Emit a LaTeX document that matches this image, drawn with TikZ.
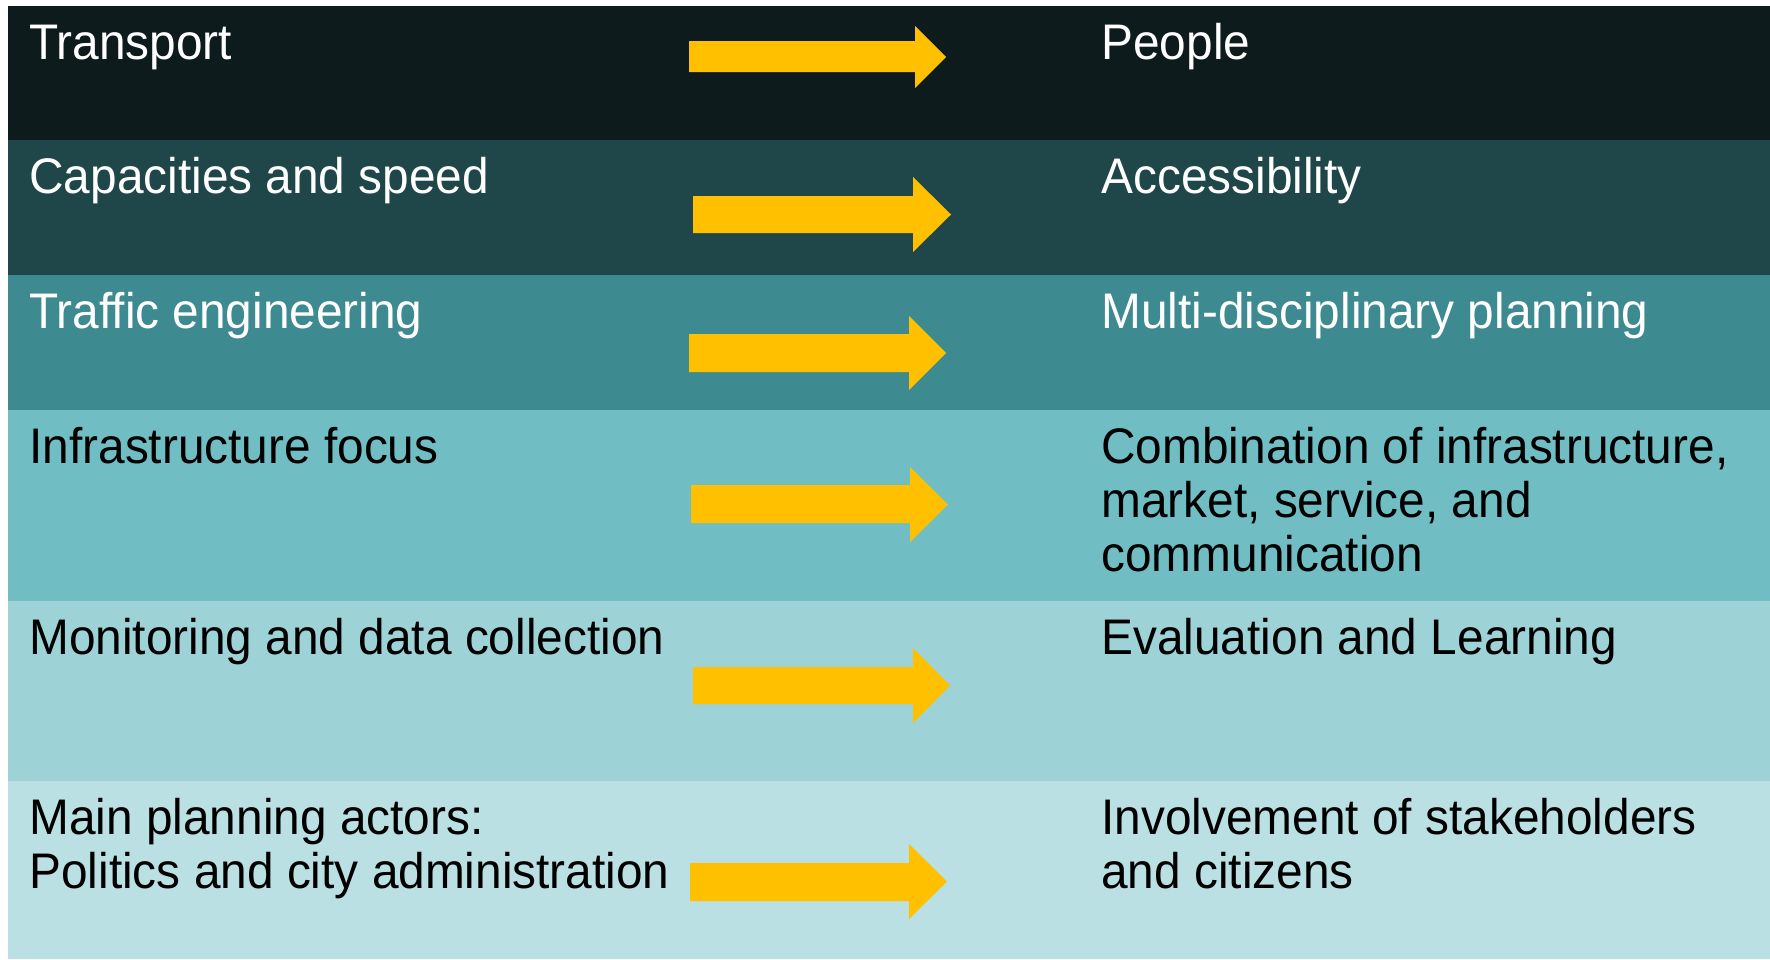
\documentclass[tikz,border=0pt]{standalone}
\usepackage{fontspec}
\setmainfont[FakeStretch=0.956]{Liberation Sans}
\definecolor{rowa}{HTML}{0D1B1C}
\definecolor{rowb}{HTML}{1F4649}
\definecolor{rowc}{HTML}{3E8A91}
\definecolor{rowd}{HTML}{70BEC4}
\definecolor{rowe}{HTML}{9DD2D6}
\definecolor{rowf}{HTML}{BAE0E4}
\definecolor{arrowgold}{HTML}{FFC000}

\begin{document}
\begin{tikzpicture}[%
x=0.5pt, y=-0.5pt,
label/.style={anchor=base west, inner sep=0pt, align=left, font=\fontsize{25}{27}\selectfont},
light/.style={label, text=white},
dark/.style={label, text=black},
bigarrow/.style={fill=arrowgold},
]
\useasboundingbox [fill=white] (0,0) rectangle (1770,959);
%% rows;
\fill [rowa] (8,6) rectangle (1770,140);
\fill [rowb] (8,140) rectangle (1770,275);
\fill [rowc] (8,275) rectangle (1770,410);
\fill [rowd] (8,410) rectangle (1770,601);
\fill [rowe] (8,601) rectangle (1770,781);
\fill [rowf] (8,781) rectangle (1770,959);
%% arrow;
\fill [bigarrow] (689,41) -- (915,41) -- (915,26) -- (946,57) -- (915,88) -- (915,72) -- (689,72) -- cycle;
%% label;
\node [light] (transport) at (29,59) {Transport};
\node [light] (people) at (1101,59) {People};
%% arrow;
\fill [bigarrow] (693,196) -- (913,196) -- (913,177) -- (951,214.5) -- (913,252) -- (913,233) -- (693,233) -- cycle;
%% label;
\node [light] (capacities) at (29,193) {Capacities and speed};
\node [light] (access) at (1101,193) {Accessibility};
%% arrow;
\fill [bigarrow] (689,334) -- (909,334) -- (909,316) -- (946,353) -- (909,390) -- (909,372) -- (689,372) -- cycle;
%% label;
\node [light] (traffic) at (29,328) {Traffic engineering};
\node [light] (planning) at (1101,328) {Multi-disciplinary planning};
%% arrow;
\fill [bigarrow] (691,485) -- (910,485) -- (910,467) -- (948,504.5) -- (910,542) -- (910,523) -- (691,523) -- cycle;
%% label (base is the last line);
\node [dark] (infra) at (29,463) {Infrastructure focus};
\node [dark] (combination) at (1101,571) {Combination of infrastructure,\\market, service, and\\communication};
%% arrow;
\fill [bigarrow] (693,667) -- (913,667) -- (913,648) -- (950,685.5) -- (913,723) -- (913,704) -- (693,704) -- cycle;
%% label;
\node [dark] (monitoring) at (29,654) {Monitoring and data collection};
\node [dark] (evaluation) at (1101,654) {Evaluation and Learning};
%% arrow;
\fill [bigarrow] (690,863) -- (909,863) -- (909,844) -- (947,881.5) -- (909,919) -- (909,901) -- (690,901) -- cycle;
%% label (base is the last line);
\node [dark] (actors) at (29,888) {Main planning actors:\\Politics and city administration};
\node [dark] (involvement) at (1101,888) {Involvement of stakeholders\\and citizens};
\end{tikzpicture}
\end{document}
